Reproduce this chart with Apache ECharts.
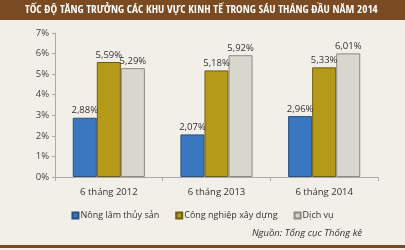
<!DOCTYPE html>
<html><head><meta charset="utf-8">
<script src="https://cdn.jsdelivr.net/npm/echarts@6/dist/echarts.min.js"></script>
<style>html,body{margin:0;padding:0;background:#F2EFE8;}#c{width:405px;height:250px;}</style>
</head><body><div id="c"></div>
<script>
const categories = ['6 tháng 2012', '6 tháng 2013', '6 tháng 2014'];
const seriesNames = ['Nông lâm thủy sản', 'Công nghiệp xây dựng', 'Dịch vụ'];
const agriculture = [2.88, 2.07, 2.96];
const industry = [5.59, 5.18, 5.33];
const services = [5.29, 5.92, 6.01];
const yTicks = [0, 1, 2, 3, 4, 5, 6, 7];
const titleText = 'TỐC ĐỘ TĂNG TRƯỞNG CÁC KHU VỰC KINH TẾ TRONG SÁU THÁNG ĐẦU NĂM 2014';
const sourceText = 'Nguồn: Tổng cục Thống kê';

const colors = ['#3B77C0', '#B59A1A', '#D9D6CE'];
const borders = ['#2B4F7E', '#6E5C14', '#8C8A85'];
const font = '"Open Sans", "Noto Sans", sans-serif';
const chart = echarts.init(document.getElementById('c'), null, {renderer: 'canvas'});
const values = [agriculture, industry, services];
chart.setOption({
  backgroundColor: '#F2EFE8',
  animation: false,
  graphic: [
    {type: 'rect', left: 0, top: 0, shape: {width: 405, height: 20}, style: {fill: '#7A4A22'}},
    {type: 'text', x: 25, y: 10, style: {text: titleText, fill: '#FFFFFF', align: 'left', verticalAlign: 'middle', font: 'bold 11.2px "Open Sans Condensed", sans-serif'}},
    {type: 'text', x: 362, y: 233, style: {text: sourceText, fill: '#333', align: 'right', verticalAlign: 'middle', font: 'italic 9.5px ' + font}},
    {type: 'rect', left: 0, top: 245, shape: {width: 405, height: 3}, style: {fill: '#7A4A22'}}
  ],
  grid: {left: 55, right: 27, top: 33, bottom: 73},
  legend: {
    data: seriesNames, top: 206, left: 'center', itemWidth: 6, itemHeight: 6, itemGap: 16,
    textStyle: {fontFamily: font, fontSize: 9, color: '#333', padding: [0,0,0,-3]},
    icon: 'rect'
  },
  xAxis: {
    type: 'category', data: categories,
    axisLine: {lineStyle: {color: '#AAA'}},
    axisTick: {show: true, length: 4, lineStyle: {color: '#AAA'}},
    axisLabel: {fontFamily: font, fontSize: 9.5, color: '#333', margin: 10}
  },
  yAxis: {
    type: 'value', min: 0, max: 7, interval: 1,
    axisLine: {show: true, lineStyle: {color: '#AAA'}},
    axisTick: {show: true, length: 3, lineStyle: {color: '#AAA'}},
    splitLine: {show: false},
    axisLabel: {fontFamily: font, fontSize: 9.5, color: '#444', margin: 6, formatter: v => yTicks.includes(v) ? v + '%' : ''}
  },
  series: values.map((d, i) => ({
    name: seriesNames[i], type: 'bar', data: d,
    barGap: '0%', barCategoryGap: '33%',
    itemStyle: {color: colors[i], borderColor: borders[i], borderWidth: 1},
    label: {show: true, position: 'top', distance: 2, fontFamily: font, fontSize: 9.5, color: '#333',
      formatter: p => p.value.toFixed(2).replace('.', ',') + '%'}
  }))
});
</script></body></html>
